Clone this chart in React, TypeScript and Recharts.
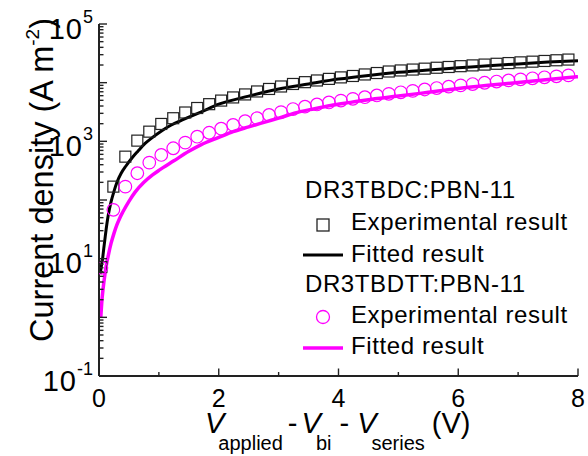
import React from 'react';
import { ComposedChart, Line, Scatter, XAxis, YAxis } from 'recharts';

// ---------- data ----------
const V_EXP = [
  0.04, 0.24, 0.44, 0.64, 0.84, 1.04, 1.24, 1.44, 1.64, 1.84,
  2.04, 2.24, 2.44, 2.64, 2.84, 3.04, 3.24, 3.44, 3.64, 3.84,
  4.04, 4.24, 4.44, 4.64, 4.84, 5.04, 5.24, 5.44, 5.64, 5.84,
  6.04, 6.24, 6.44, 6.64, 6.84, 7.04, 7.24, 7.44, 7.64, 7.84,
];
const J_EXP_DC = [
  7.2, 169, 548, 1028, 1462, 1978, 2477, 3100, 3700, 4300,
  4950, 5600, 6300, 7080, 7810, 8610, 9500, 10200, 10900, 11600,
  12300, 13000, 13800, 14600, 15500, 16150, 16730, 17330, 17960, 18510,
  19100, 19700, 20340, 20990, 21580, 22190, 22810, 23440, 24090, 24760,
];
const J_EXP_DTT = [
  7, 68, 169, 286, 434, 586, 762, 950, 1200, 1400,
  1640, 1902, 2200, 2477, 2818, 3150, 3550, 3900, 4250, 4600,
  4950, 5300, 5650, 6050, 6450, 6850, 7250, 7650, 8100, 8550,
  9000, 9480, 9960, 10440, 10920, 11400, 11870, 12340, 12820, 13300,
];
const V_FIT_DC = [
  0.02, 0.04, 0.06, 0.08, 0.1, 0.12, 0.15, 0.2, 0.25, 0.3, 0.37, 0.45,
  0.55, 0.65, 0.77, 0.9, 1.05, 1.2, 1.35, 1.5, 1.7, 2.0, 2.5, 3.0, 3.5,
  4.0, 4.5, 5.0, 5.5, 6.0, 6.5, 7.0, 7.5, 8.0,
];
const J_FIT_DC = [
  5.5, 7.5, 10, 15, 22, 32, 52, 92, 140, 200, 285, 380,
  520, 680, 920, 1180, 1520, 1880, 2220, 2580, 3150, 4300, 5900, 7800, 9500,
  11500, 13300, 15000, 16500, 17900, 19500, 20900, 22400, 23700,
];
const V_FIT_DTT = [
  0.03, 0.05, 0.07, 0.1, 0.13, 0.16, 0.2, 0.25, 0.3, 0.35, 0.4, 0.5,
  0.6, 0.75, 0.9, 1.0, 1.25, 1.5, 1.7, 2.0, 2.24, 2.5, 2.8, 3.0, 3.36,
  3.6, 3.91, 4.2, 4.47, 5.0, 5.5, 6.0, 6.5, 7.0, 7.5, 8.0,
];
const J_FIT_DTT = [
  1.0, 2.0, 3.2, 5.5, 8.5, 12, 18, 27, 38, 50, 63, 95,
  135, 200, 270, 320, 465, 676, 871, 1164, 1462, 1762, 2168, 2489, 3206,
  3597, 4169, 4613, 5070, 5900, 6850, 7950, 9000, 10050, 11300, 12660,
];

const X_TICKS = [0, 1, 2, 3, 4, 5, 6, 7, 8];
const X_LABELED = [0, 2, 4, 6, 8];
const Y_DECADES = [0.1, 1, 10, 100, 1000, 10000, 100000];
const Y_LABELED = [0.1, 10, 1000, 100000];
const Y_LABEL_EXP = ['-1', '1', '3', '5'];
const MINOR_MULT = [2, 3, 4, 5, 6, 7, 8, 9];

const SERIES_DC = 'DR3TBDC:PBN-11';
const SERIES_DTT = 'DR3TBDTT:PBN-11';
const EXP_LABEL = 'Experimental result';
const FIT_LABEL = 'Fitted result';

// ---------- build ----------
const toPts = (vs: number[], js: number[]) => vs.map((v, i) => ({ v, j: js[i] }));
const expDC = toPts(V_EXP, J_EXP_DC);
const expDTT = toPts(V_EXP, J_EXP_DTT);
const fitDC = toPts(V_FIT_DC, J_FIT_DC);
const fitDTT = toPts(V_FIT_DTT, J_FIT_DTT);

const Y_TICKS: number[] = [];
Y_DECADES.forEach((d, i) => {
  Y_TICKS.push(d);
  if (i < Y_DECADES.length - 1) MINOR_MULT.forEach((m) => Y_TICKS.push(d * m));
});

// ---------- layout / style ----------
const W = 588;
const H = 456;
const MARGIN = { top: 24, right: 10, left: 0, bottom: 0 };
const Y_AXIS_W = 99;
const X_AXIS_H = 80;
const PLOT_LEFT = MARGIN.left + Y_AXIS_W;
const PLOT_BOTTOM = H - MARGIN.bottom - X_AXIS_H;
const PLOT_TOP = MARGIN.top;
const FONT = '"Liberation Sans", Arial, Helvetica, sans-serif';
const AXIS = '#222';
const MAGENTA = '#ff00ff';

const YTick = (props: any) => {
  const { y, payload } = props;
  const v = payload.value;
  const major = Y_DECADES.indexOf(v) >= 0;
  const li = Y_LABELED.indexOf(v);
  return (
    <g>
      <line x1={PLOT_LEFT} x2={PLOT_LEFT + (major ? 8 : 4.5)} y1={y} y2={y} stroke={AXIS} strokeWidth={1.4} />
      {li >= 0 && (
        <text x={PLOT_LEFT - 6} y={y + 14.5} textAnchor="end" fontFamily={FONT} fontSize={29} fill="#000">
          <tspan letterSpacing={1}>10</tspan>
          <tspan fontSize={18} dy={-16}>{Y_LABEL_EXP[li]}</tspan>
        </text>
      )}
    </g>
  );
};

const XTick = (props: any) => {
  const { x, payload } = props;
  const v = payload.value;
  const major = X_LABELED.indexOf(v) >= 0;
  return (
    <g>
      <line x1={x} x2={x} y1={PLOT_BOTTOM} y2={PLOT_BOTTOM - (major ? 7.5 : 4)} stroke={AXIS} strokeWidth={1.4} />
      {major && (
        <text x={x} y={PLOT_BOTTOM + 31} textAnchor="middle" fontFamily={FONT} fontSize={25} fill="#000">
          {v}
        </text>
      )}
    </g>
  );
};

const XTitle = () => {
  const sx = 205;
  const by = PLOT_BOTTOM + 57;
  return (
    <text x={sx} y={by} textAnchor="start" fontFamily={FONT} fontSize={29} fill="#000">
      <tspan fontStyle="italic">V</tspan>
      <tspan fontSize={20} dx={-6} dy={17}>applied</tspan>
      <tspan dx={5} dy={-17}>-</tspan>
      <tspan dx={4} fontStyle="italic">V</tspan>
      <tspan fontSize={20} dx={-5} dy={17}>bi</tspan>
      <tspan dx={8} dy={-17}>-</tspan>
      <tspan dx={8} fontStyle="italic">V</tspan>
      <tspan fontSize={20} dx={-5} dy={17}>series</tspan>
      <tspan dx={7} dy={-17}>(V)</tspan>
    </text>
  );
};

const YTitle = () => {
  const bx = 53;
  const cy = (PLOT_TOP + PLOT_BOTTOM) / 2 - 20;
  return (
    <text
      x={bx}
      y={cy}
      transform={`rotate(-90 ${bx} ${cy})`}
      textAnchor="middle"
      fontFamily={FONT}
      fontSize={32.5}
      fill="#000"
    >
      {'Current density (A m'}
      <tspan fontSize={19} dy={-14}>-2</tspan>
      <tspan dy={14}>)</tspan>
    </text>
  );
};

const SquareShape = (p: any) => (
  <rect x={p.cx - 5.5} y={p.cy - 5.5} width={11} height={11} fill="none" stroke={AXIS} strokeWidth={1.2} />
);
const CircleShape = (p: any) => (
  <circle cx={p.cx} cy={p.cy} r={6.3} fill="none" stroke={MAGENTA} strokeWidth={1.2} />
);

const LegendOverlay = () => (
  <svg width={W} height={H} style={{ position: 'absolute', left: 0, top: 0, pointerEvents: 'none' }}>
    <g fontFamily={FONT} fontSize={24} fill="#000" letterSpacing={0.6}>
      <text x={305} y={198}>{SERIES_DC}</text>
      <rect x={317} y={219} width={12} height={12} fill="none" stroke={AXIS} strokeWidth={1.3} />
      <text x={351} y={230}>{EXP_LABEL}</text>
      <line x1={303} x2={343} y1={255} y2={255} stroke="#000" strokeWidth={3} />
      <text x={351} y={262}>{FIT_LABEL}</text>
      <text x={305} y={292}>{SERIES_DTT}</text>
      <circle cx={323} cy={317} r={6.5} fill="none" stroke={MAGENTA} strokeWidth={1.3} />
      <text x={351} y={323}>{EXP_LABEL}</text>
      <line x1={303} x2={343} y1={348} y2={348} stroke={MAGENTA} strokeWidth={3.5} />
      <text x={351} y={354}>{FIT_LABEL}</text>
    </g>
  </svg>
);

export default function App() {
  return (
    <div style={{ position: 'absolute', left: 0, top: 0, width: W, height: H, background: '#fff' }}>
      <ComposedChart width={W} height={H} margin={MARGIN}>
        <XAxis
          xAxisId={0}
          dataKey="v"
          type="number"
          domain={[0, 8]}
          ticks={X_TICKS}
          interval={0}
          tick={<XTick />}
          tickLine={false}
          axisLine={{ stroke: AXIS, strokeWidth: 2 }}
          height={X_AXIS_H}
          allowDataOverflow
        />
        <XAxis
          xAxisId="top"
          orientation="top"
          type="number"
          domain={[0, 8]}
          tick={false}
          tickLine={false}
          axisLine={{ stroke: AXIS, strokeWidth: 2 }}
          height={0}
        />
        <YAxis
          yAxisId={0}
          dataKey="j"
          type="number"
          scale="log"
          domain={[0.1, 100000]}
          ticks={Y_TICKS}
          interval={0}
          tick={<YTick />}
          tickLine={false}
          axisLine={{ stroke: AXIS, strokeWidth: 2 }}
          width={Y_AXIS_W}
          allowDataOverflow
        />
        <YAxis
          yAxisId="right"
          orientation="right"
          type="number"
          scale="log"
          domain={[0.1, 100000]}
          tick={false}
          tickLine={false}
          axisLine={{ stroke: AXIS, strokeWidth: 2 }}
          width={0}
        />
        <Scatter data={expDC} shape={SquareShape} isAnimationActive={false} />
        <Line data={fitDC} dataKey="j" type="monotone" stroke="#000" strokeWidth={3} dot={false} isAnimationActive={false} />
        <Scatter data={expDTT} shape={CircleShape} isAnimationActive={false} />
        <Line data={fitDTT} dataKey="j" type="monotone" stroke={MAGENTA} strokeWidth={3.5} dot={false} isAnimationActive={false} />
      </ComposedChart>
      <svg width={W} height={H} style={{ position: 'absolute', left: 0, top: 0, pointerEvents: 'none' }}>
        <YTitle />
        <XTitle />
      </svg>
      <LegendOverlay />
    </div>
  );
}
